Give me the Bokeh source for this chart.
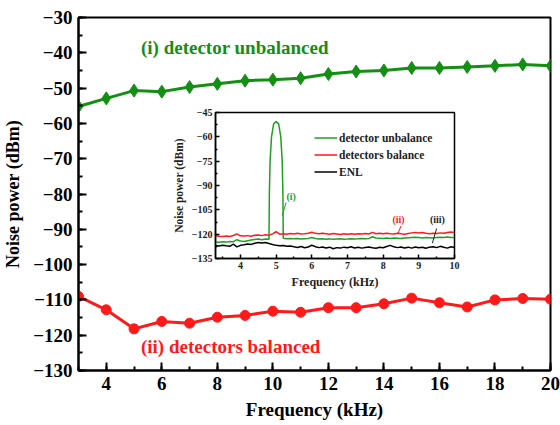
from bokeh.plotting import figure
from bokeh.models import FixedTicker, Label, Legend, LegendItem, Range1d
from bokeh.layouts import column
from bokeh.embed import file_html
from bokeh.resources import INLINE

# ---------------- data (main plot) ----------------
freq_khz = [3, 4, 5, 6, 7, 8, 9, 10, 11, 12, 13, 14, 15, 16, 17, 18, 19, 20]
unbalanced_dbm = [-55.2, -52.9, -50.7, -51.0, -49.7, -48.8, -47.9, -47.6, -47.2,
                  -46.0, -45.3, -45.0, -44.3, -44.3, -44.0, -43.7, -43.3, -43.7]
balanced_dbm = [-109.0, -112.8, -118.2, -116.1, -116.6, -114.9, -114.4, -113.2, -113.5,
                -112.2, -112.2, -111.1, -109.5, -110.8, -112.0, -110.0, -109.6, -109.8]
x_ticks = [4, 6, 8, 10, 12, 14, 16, 18, 20]
y_ticks = [-130, -120, -110, -100, -90, -80, -70, -60, -50, -40, -30]

# ---------------- data (inset spectra) ----------------
spec_x = [3.3, 3.4, 3.5, 3.6, 3.7, 3.8, 3.9, 4.0, 4.1, 4.2, 4.3, 4.4, 4.5, 4.6, 4.7, 4.8,
          4.9, 5.0, 5.1, 5.2, 5.3, 5.4, 5.5, 5.6, 5.7, 5.8, 5.9, 6.0, 6.1, 6.2, 6.3, 6.4,
          6.5, 6.6, 6.7, 6.8, 6.9, 7.0, 7.1, 7.2, 7.3, 7.4, 7.5, 7.6, 7.7, 7.8, 7.9, 8.0,
          8.1, 8.2, 8.3, 8.4, 8.5, 8.6, 8.7, 8.8, 8.9, 9.0, 9.1, 9.2, 9.3, 9.4, 9.5, 9.6,
          9.7, 9.8, 9.9, 10.0]
balance_spec = [-121.0, -121.3, -121.5, -121.2, -121.4, -120.8, -119.8, -121.0, -121.2, -120.9,
                -121.3, -120.7, -120.5, -120.9, -120.4, -120.6, -119.8, -118.5, -120.0, -119.8,
                -120.1, -119.6, -119.9, -119.5, -119.9, -119.7, -119.4, -118.8, -119.5, -119.8,
                -119.4, -119.7, -120.0, -119.6, -119.9, -120.2, -119.8, -120.0, -119.7, -120.1,
                -119.8, -119.9, -119.6, -119.9, -118.9, -119.7, -119.5, -119.8, -119.4, -119.7,
                -119.9, -119.5, -119.8, -120.0, -119.6, -119.2, -118.9, -119.3, -119.0, -119.5,
                -119.8, -119.4, -119.6, -119.2, -119.5, -119.0, -118.7, -118.9]
enl_spec = [-127.0, -127.3, -126.8, -127.2, -127.5, -126.2, -127.8, -126.9, -126.5, -126.0,
            -126.3, -125.6, -125.2, -125.5, -125.1, -125.8, -126.4, -126.9, -127.2, -127.0,
            -127.5, -127.3, -127.8, -128.2, -127.6, -128.4, -127.9, -126.8, -127.7, -128.3,
            -127.9, -128.5, -128.0, -129.0, -128.3, -128.6, -128.0, -128.4, -127.8, -128.5,
            -128.1, -128.6, -128.2, -127.9, -128.4, -128.7, -128.1, -128.4, -127.6, -126.9,
            -127.8, -128.3, -127.9, -128.5, -128.0, -128.6, -127.9, -128.4, -128.1, -128.7,
            -128.0, -127.7, -128.3, -127.5, -128.1, -128.6, -127.8, -128.2]
unbal_x = [3.3, 3.4, 3.5, 3.6, 3.7, 3.8, 3.9, 4.0, 4.1, 4.2, 4.3, 4.4, 4.5, 4.6, 4.7, 4.8,
           4.81, 4.83, 4.87, 4.93, 5.0, 5.07, 5.13, 5.17, 5.19, 5.2,
           5.3, 5.4, 5.5, 5.6, 5.7, 5.8, 5.9, 6.0, 6.1, 6.2, 6.3, 6.4,
           6.5, 6.6, 6.7, 6.8, 6.9, 7.0, 7.1, 7.2, 7.3, 7.4, 7.5, 7.6, 7.7, 7.8, 7.9, 8.0,
           8.1, 8.2, 8.3, 8.4, 8.5, 8.6, 8.7, 8.8, 8.9, 9.0, 9.1, 9.2, 9.3, 9.4, 9.5, 9.6,
           9.7, 9.8, 9.9, 10.0]
unbalance_spec = [-124.8, -125.0, -124.7, -124.9, -124.5, -124.6, -123.4, -124.2, -124.5, -124.0,
                  -123.6, -123.3, -123.0, -123.4, -123.0, -123.2,
                  -95.0, -75.0, -60.0, -52.0, -50.5, -52.0, -60.0, -75.0, -95.0, -122.5,
                  -122.8, -122.6, -122.9, -122.7, -123.0, -122.8, -122.6, -122.1, -122.7, -123.0,
                  -122.8, -123.1, -122.9, -123.2, -123.0, -122.9, -123.1, -123.0, -122.8, -123.0,
                  -122.9, -122.7, -122.8, -122.6, -121.6, -122.4, -122.5, -122.7, -122.4, -122.6,
                  -122.3, -122.5, -122.7, -122.4, -122.2, -122.0, -121.9, -122.1, -122.3, -122.0,
                  -122.2, -122.4, -122.1, -121.9, -122.0, -121.8, -122.0, -122.1]
inset_x_ticks = [4, 5, 6, 7, 8, 9, 10]
inset_y_ticks = [-135, -120, -105, -90, -75, -60, -45]

GREEN = "#138f13"
GREEN2 = "#1fa11f"
RED = "#ff1a1a"
INK = "#222222"
FONT = "Liberation Serif"

# ---------------- main figure ----------------
p = figure(width=560, height=425, output_backend="svg", toolbar_location=None,
           x_range=Range1d(3, 20), y_range=Range1d(-130, -30),
           min_border_left=77, min_border_right=10, min_border_top=17, min_border_bottom=55)
p.background_fill_color = "white"
p.border_fill_color = "white"
p.outline_line_color = "black"
p.outline_line_width = 2
p.grid.visible = False

p.line(freq_khz, unbalanced_dbm, line_color=GREEN, line_width=3)
p.scatter(freq_khz, unbalanced_dbm, marker="diamond", size=13, color=GREEN)
p.line(freq_khz, balanced_dbm, line_color=RED, line_width=3)
p.scatter(freq_khz, balanced_dbm, marker="circle", size=10, color=RED)

p.xaxis.ticker = FixedTicker(ticks=x_ticks, minor_ticks=list(range(3, 21)))
p.yaxis.ticker = FixedTicker(ticks=y_ticks, minor_ticks=list(range(-130, -29, 5)))
for ax in (p.xaxis, p.yaxis):
    ax.axis_line_width = 2
    ax.major_tick_in = 8
    ax.major_tick_out = 0
    ax.minor_tick_in = 4
    ax.minor_tick_out = 0
    ax.major_tick_line_width = 2
    ax.minor_tick_line_width = 2
    ax.major_label_text_font = FONT
    ax.major_label_text_font_style = "bold"
    ax.major_label_text_font_size = "19px"
    ax.major_label_text_color = "black"
    ax.axis_label_text_font = FONT
    ax.axis_label_text_font_style = "bold"
    ax.axis_label_text_color = "black"
p.xaxis.axis_label_text_font_size = "19px"
p.yaxis.axis_label_text_font_size = "18px"
p.xaxis.axis_label = "Frequency (kHz)"
p.yaxis.axis_label = "Noise power (dBm)"
p.xaxis.major_label_standoff = 6
p.yaxis.major_label_standoff = 6
p.xaxis.axis_label_standoff = 6
p.yaxis.axis_label_standoff = 7

p.add_layout(Label(x=5.25, y=-38.5, text="(i) detector unbalanced", text_color=GREEN,
                   text_font=FONT, text_font_style="bold", text_font_size="19px",
                   text_baseline="middle"))
p.add_layout(Label(x=5.25, y=-123.1, text="(ii) detectors balanced", text_color=RED,
                   text_font=FONT, text_font_style="bold", text_font_size="19px",
                   text_baseline="middle"))

# ---------------- inset figure ----------------
ins = figure(width=327, height=188, output_backend="svg", toolbar_location=None,
             x_range=Range1d(3.3, 10), y_range=Range1d(-135, -45),
             min_border_left=77, min_border_right=10, min_border_top=8, min_border_bottom=34)
ins.background_fill_color = "white"
ins.border_fill_color = None
ins.outline_line_color = "black"
ins.outline_line_width = 1.5
ins.grid.visible = False

r_g = ins.line(unbal_x, unbalance_spec, line_color=GREEN2, line_width=1.5)
r_r = ins.line(spec_x, balance_spec, line_color=RED, line_width=1.5)
r_k = ins.line(spec_x, enl_spec, line_color="black", line_width=1.5)

ins.xaxis.ticker = FixedTicker(ticks=inset_x_ticks,
                               minor_ticks=[3.5, 4.5, 5.5, 6.5, 7.5, 8.5, 9.5])
ins.yaxis.ticker = FixedTicker(ticks=inset_y_ticks,
                               minor_ticks=[-127.5, -112.5, -97.5, -82.5, -67.5, -52.5])
for ax in (ins.xaxis, ins.yaxis):
    ax.axis_line_width = 1.5
    ax.major_tick_in = 4
    ax.major_tick_out = 0
    ax.minor_tick_in = 2
    ax.minor_tick_out = 0
    ax.major_tick_line_width = 1.5
    ax.minor_tick_line_width = 1.5
    ax.major_label_text_font = FONT
    ax.major_label_text_font_style = "bold"
    ax.major_label_text_font_size = "10px"
    ax.major_label_text_color = INK
    ax.axis_label_text_font = FONT
    ax.axis_label_text_font_style = "bold"
    ax.axis_label_text_color = INK
ins.xaxis.axis_label_text_font_size = "12px"
ins.yaxis.axis_label_text_font_size = "11.5px"
ins.xaxis.axis_label = "Frequency (kHz)"
ins.yaxis.axis_label = "Noise power (dBm)"
ins.xaxis.major_label_standoff = 3
ins.yaxis.major_label_standoff = 3
ins.xaxis.axis_label_standoff = 3
ins.yaxis.axis_label_standoff = 4

legend = Legend(items=[LegendItem(label="detector unbalance", renderers=[r_g]),
                       LegendItem(label="detectors balance", renderers=[r_r]),
                       LegendItem(label="ENL", renderers=[r_k])],
                location=(99, 78), padding=0, spacing=0, margin=0,
                glyph_width=23, glyph_height=17, label_height=17, label_standoff=2,
                border_line_color=None, background_fill_alpha=0,
                label_text_font=FONT, label_text_font_style="bold",
                label_text_font_size="11.5px", label_text_color=INK)
ins.add_layout(legend)

ins.add_layout(Label(x=5.42, y=-96.6, text="(i)", text_color=GREEN2, text_font=FONT,
                     text_font_style="bold", text_font_size="10px",
                     text_align="center", text_baseline="middle"))
ins.add_layout(Label(x=8.43, y=-111, text="(ii)", text_color=RED, text_font=FONT,
                     text_font_style="bold", text_font_size="10px",
                     text_align="center", text_baseline="middle"))
ins.add_layout(Label(x=9.52, y=-111, text="(iii)", text_color=INK, text_font=FONT,
                     text_font_style="bold", text_font_size="10px",
                     text_align="center", text_baseline="middle"))
ins.segment(x0=[5.28], y0=[-100.5], x1=[5.17], y1=[-108.5], line_color=GREEN2, line_width=1)
ins.segment(x0=[8.5], y0=[-115], x1=[8.42], y1=[-119.4], line_color=RED, line_width=1)
ins.segment(x0=[9.5], y0=[-116.5], x1=[9.38], y1=[-125.5], line_color=INK, line_width=1)

ins.styles = {"position": "absolute", "left": "137px", "top": "104px",
              "width": "327px", "height": "188px"}

root = column(p, ins)
root.styles = {"position": "relative"}

open("out.html", "w").write(file_html(root, INLINE))
